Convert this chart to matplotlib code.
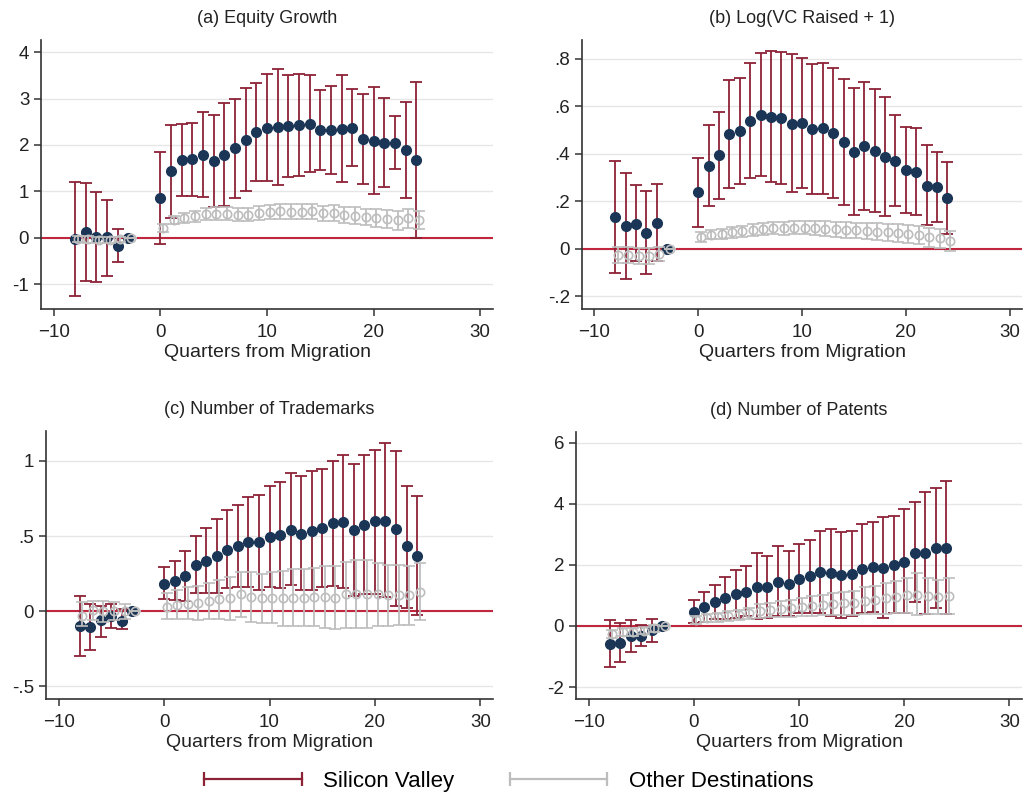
import matplotlib
matplotlib.use("Agg")
import matplotlib.pyplot as plt
from matplotlib.lines import Line2D
from matplotlib.ticker import FuncFormatter

plt.rcParams['font.family'] = ['Liberation Sans', 'DejaVu Sans']

quarters = [-8, -7, -6, -5, -4, -3] + list(range(0, 25))

# (a) Equity Growth
a_sv = [-0.02, 0.12, 0.02, 0.01, -0.17, 0.0,
        0.85, 1.43, 1.68, 1.69, 1.79, 1.65, 1.79, 1.93, 2.11, 2.28, 2.37, 2.38, 2.40,
        2.42, 2.46, 2.33, 2.33, 2.35, 2.36, 2.13, 2.09, 2.04, 2.04, 1.89, 1.67]
a_sv_lo = [-1.24, -0.93, -0.94, -0.81, -0.52, 0.0,
           -0.12, 0.43, 0.90, 0.90, 0.88, 0.67, 0.68, 0.87, 1.00, 1.22, 1.22, 1.14, 1.32,
           1.33, 1.41, 1.46, 1.38, 1.20, 1.54, 1.17, 0.95, 1.09, 1.49, 0.85, 0.00]
a_sv_hi = [1.20, 1.18, 0.98, 0.82, 0.20, 0.0,
           1.84, 2.44, 2.46, 2.48, 2.70, 2.64, 2.90, 2.99, 3.23, 3.33, 3.52, 3.63, 3.51,
           3.53, 3.51, 3.19, 3.28, 3.51, 3.20, 3.09, 3.24, 3.01, 2.62, 2.92, 3.36]
a_ot = [-0.02, -0.03, -0.04, -0.04, -0.03, 0.0,
        0.21, 0.39, 0.43, 0.47, 0.52, 0.52, 0.52, 0.50, 0.50, 0.54, 0.55, 0.57, 0.56,
        0.56, 0.57, 0.53, 0.53, 0.49, 0.48, 0.45, 0.43, 0.41, 0.38, 0.42, 0.39]
a_ot_lo = [-0.09, -0.10, -0.11, -0.11, -0.09, 0.0,
           0.13, 0.30, 0.32, 0.35, 0.39, 0.38, 0.38, 0.36, 0.36, 0.39, 0.40, 0.41, 0.40,
           0.40, 0.41, 0.37, 0.36, 0.32, 0.30, 0.27, 0.24, 0.22, 0.18, 0.21, 0.19]
a_ot_hi = [0.05, 0.04, 0.03, 0.03, 0.03, 0.0,
           0.29, 0.48, 0.54, 0.59, 0.65, 0.66, 0.66, 0.64, 0.64, 0.69, 0.70, 0.73, 0.72,
           0.72, 0.73, 0.69, 0.70, 0.66, 0.66, 0.63, 0.62, 0.60, 0.58, 0.63, 0.59]

# (b) Log(VC Raised + 1)
b_sv = [0.135, 0.096, 0.107, 0.068, 0.110, 0.0,
        0.238, 0.350, 0.395, 0.485, 0.495, 0.539, 0.564, 0.556, 0.550, 0.528, 0.530, 0.505, 0.510,
        0.488, 0.449, 0.408, 0.432, 0.412, 0.388, 0.372, 0.332, 0.325, 0.267, 0.260, 0.216]
b_sv_lo = [-0.100, -0.127, -0.050, -0.106, -0.050, 0.0,
           0.093, 0.179, 0.212, 0.258, 0.272, 0.300, 0.306, 0.282, 0.272, 0.238, 0.258, 0.233, 0.231,
           0.214, 0.185, 0.142, 0.162, 0.157, 0.138, 0.180, 0.152, 0.141, 0.100, 0.113, 0.063]
b_sv_hi = [0.370, 0.320, 0.268, 0.243, 0.272, 0.0,
           0.385, 0.522, 0.578, 0.712, 0.720, 0.783, 0.825, 0.834, 0.830, 0.820, 0.806, 0.778, 0.785,
           0.762, 0.715, 0.677, 0.703, 0.672, 0.642, 0.566, 0.514, 0.508, 0.436, 0.410, 0.368]
b_ot = [-0.025, -0.025, -0.030, -0.030, -0.020, 0.0,
        0.050, 0.060, 0.063, 0.070, 0.075, 0.080, 0.085, 0.087, 0.087, 0.089, 0.090, 0.088, 0.086,
        0.083, 0.080, 0.078, 0.076, 0.073, 0.070, 0.068, 0.063, 0.059, 0.050, 0.045, 0.034]
b_ot_lo = [-0.060, -0.058, -0.062, -0.062, -0.050, 0.0,
           0.030, 0.040, 0.042, 0.048, 0.052, 0.056, 0.060, 0.061, 0.060, 0.061, 0.061, 0.058, 0.055,
           0.052, 0.048, 0.045, 0.042, 0.038, 0.034, 0.031, 0.025, 0.020, 0.010, 0.004, -0.008]
b_ot_hi = [0.010, 0.008, 0.002, 0.002, 0.010, 0.0,
           0.070, 0.080, 0.084, 0.092, 0.098, 0.104, 0.110, 0.113, 0.114, 0.117, 0.119, 0.118, 0.117,
           0.114, 0.112, 0.111, 0.110, 0.108, 0.106, 0.105, 0.101, 0.098, 0.090, 0.086, 0.076]

# (c) Number of Trademarks
c_sv = [-0.100, -0.109, -0.060, -0.031, -0.064, 0.0,
        0.184, 0.204, 0.233, 0.308, 0.335, 0.366, 0.410, 0.432, 0.461, 0.459, 0.494, 0.508, 0.543,
        0.517, 0.537, 0.554, 0.588, 0.594, 0.541, 0.572, 0.599, 0.603, 0.550, 0.432, 0.370]
c_sv_lo = [-0.297, -0.260, -0.170, -0.113, -0.120, 0.0,
           0.078, 0.073, 0.067, 0.118, 0.122, 0.122, 0.151, 0.162, 0.162, 0.144, 0.162, 0.151, 0.173,
           0.140, 0.140, 0.162, 0.166, 0.151, 0.104, 0.113, 0.113, 0.095, 0.033, 0.024, -0.029]
c_sv_hi = [0.102, 0.050, 0.033, 0.050, 0.013, 0.0,
           0.293, 0.337, 0.400, 0.500, 0.554, 0.612, 0.674, 0.705, 0.760, 0.776, 0.836, 0.862, 0.918,
           0.898, 0.933, 0.949, 1.002, 1.038, 0.982, 1.038, 1.073, 1.118, 1.064, 0.836, 0.769]
c_ot = [-0.030, 0.010, 0.000, 0.000, 0.000, 0.0,
        0.029, 0.040, 0.047, 0.055, 0.070, 0.080, 0.090, 0.113, 0.095, 0.090, 0.089, 0.086, 0.090,
        0.090, 0.095, 0.095, 0.090, 0.113, 0.117, 0.117, 0.113, 0.106, 0.110, 0.106, 0.129]
c_ot_lo = [-0.100, -0.060, -0.070, -0.060, -0.050, 0.0,
           -0.050, -0.050, -0.050, -0.060, -0.050, -0.050, -0.060, -0.040, -0.070, -0.080, -0.080, -0.100, -0.100,
           -0.100, -0.100, -0.110, -0.120, -0.110, -0.110, -0.110, -0.100, -0.100, -0.090, -0.090, -0.060]
c_ot_hi = [0.060, 0.070, 0.070, 0.060, 0.050, 0.0,
           0.120, 0.140, 0.160, 0.170, 0.190, 0.210, 0.230, 0.260, 0.260, 0.250, 0.260, 0.270, 0.280,
           0.280, 0.290, 0.300, 0.300, 0.330, 0.340, 0.340, 0.320, 0.310, 0.310, 0.300, 0.320]

# (d) Number of Patents
d_sv = [-0.59, -0.56, -0.33, -0.33, -0.13, 0.0,
        0.47, 0.61, 0.79, 0.91, 1.05, 1.12, 1.29, 1.29, 1.43, 1.39, 1.54, 1.62, 1.76,
        1.74, 1.67, 1.71, 1.86, 1.92, 1.90, 2.00, 2.11, 2.40, 2.38, 2.54, 2.54]
d_sv_lo = [-1.35, -1.17, -0.84, -0.66, -0.51, 0.0,
           0.11, 0.14, 0.22, 0.24, 0.27, 0.31, 0.22, 0.27, 0.31, 0.31, 0.41, 0.41, 0.44,
           0.33, 0.25, 0.33, 0.41, 0.47, 0.25, 0.41, 0.41, 0.78, 0.39, 0.59, 0.39]
d_sv_hi = [0.20, 0.09, 0.20, 0.02, 0.22, 0.0,
           0.85, 1.11, 1.34, 1.59, 1.82, 1.97, 2.39, 2.30, 2.62, 2.45, 2.69, 2.83, 3.10,
           3.16, 3.08, 3.10, 3.33, 3.41, 3.56, 3.61, 3.83, 4.05, 4.39, 4.51, 4.73]
d_ot = [-0.25, -0.20, -0.20, -0.15, -0.08, 0.0,
        0.20, 0.25, 0.28, 0.33, 0.36, 0.41, 0.49, 0.52, 0.56, 0.58, 0.61, 0.66, 0.69,
        0.71, 0.74, 0.76, 0.82, 0.85, 0.90, 0.94, 1.00, 1.03, 0.98, 0.96, 0.98]
d_ot_lo = [-0.38, -0.32, -0.32, -0.27, -0.19, 0.0,
           0.08, 0.12, 0.14, 0.17, 0.19, 0.22, 0.27, 0.28, 0.30, 0.30, 0.31, 0.34, 0.35,
           0.35, 0.36, 0.36, 0.38, 0.39, 0.40, 0.41, 0.43, 0.36, 0.39, 0.40, 0.39]
d_ot_hi = [-0.12, -0.08, -0.08, -0.03, 0.03, 0.0,
           0.32, 0.38, 0.42, 0.49, 0.53, 0.60, 0.71, 0.76, 0.82, 0.86, 0.91, 0.98, 1.03,
           1.07, 1.12, 1.16, 1.26, 1.31, 1.40, 1.47, 1.57, 1.72, 1.57, 1.52, 1.56]

titles = ["(a) Equity Growth", "(b) Log(VC Raised + 1)",
          "(c) Number of Trademarks", "(d) Number of Patents"]
xticks = [-10, 0, 10, 20, 30]
yticks_a = [-1, 0, 1, 2, 3, 4]
yticks_b = [-0.2, 0, 0.2, 0.4, 0.6, 0.8]
yticks_c = [-0.5, 0, 0.5, 1]
yticks_d = [-2, 0, 2, 4, 6]

SV_RED = "#8c2236"
SV_NAVY = "#1b3556"
ZERO_RED = "#c1263f"
OT_GRAY = "#bdbdbd"


def stata_fmt(v, pos):
    # Stata drops the leading zero: .5, -.2
    if abs(v) < 1e-9:
        return "0"
    s = ("%g" % round(v, 3))
    s = s.replace("0.", ".")
    return s


def panel(ax, title, sv, sv_lo, sv_hi, ot, ot_lo, ot_hi, yticks, ylim):
    ax.axhline(0, color=ZERO_RED, lw=1.5, zorder=2)
    sv_err = [[m - l for m, l in zip(sv, sv_lo)], [h - m for m, h in zip(sv, sv_hi)]]
    ax.errorbar(quarters, sv, yerr=sv_err, fmt='o', color=SV_RED, ecolor=SV_RED,
                mfc=SV_NAVY, mec=SV_NAVY, ms=7, elinewidth=1.3, capsize=4,
                capthick=1.3, zorder=3)
    xo = [q + 0.25 for q in quarters]
    ot_err = [[m - l for m, l in zip(ot, ot_lo)], [h - m for m, h in zip(ot, ot_hi)]]
    ax.errorbar(xo, ot, yerr=ot_err, fmt='o', color=OT_GRAY, ecolor=OT_GRAY,
                mfc='none', mec=OT_GRAY, ms=6, mew=1.2, elinewidth=1.3, capsize=4,
                capthick=1.3, zorder=4)
    ax.set_xlim(-11.2, 31.2)
    ax.set_ylim(*ylim)
    ax.set_xticks(xticks)
    ax.set_yticks(yticks)
    ax.yaxis.set_major_formatter(FuncFormatter(stata_fmt))
    ax.grid(axis='y', color='#e6e6e6', lw=1.0, zorder=0)
    ax.set_axisbelow(True)
    for s in ['top', 'right']:
        ax.spines[s].set_visible(False)
    for s in ['left', 'bottom']:
        ax.spines[s].set_color('#333333')
        ax.spines[s].set_linewidth(1.2)
    ax.tick_params(axis='both', labelsize=13.5, length=5, width=1.1, color='#333333',
                   labelcolor='#222222')
    ax.tick_params(axis='x', pad=6)
    ax.set_title(title, fontsize=13, pad=12, color='#222222')
    ax.set_xlabel("Quarters from Migration", fontsize=14, labelpad=2, color='#222222')


fig = plt.figure(figsize=(10.31, 7.95), dpi=100)
ax_a = fig.add_axes([0.0398, 0.6113, 0.4384, 0.3384])
ax_b = fig.add_axes([0.5645, 0.6113, 0.4268, 0.3384])
ax_c = fig.add_axes([0.0446, 0.1208, 0.4336, 0.3371])
ax_d = fig.add_axes([0.5587, 0.1208, 0.4326, 0.3358])

panel(ax_a, titles[0], a_sv, a_sv_lo, a_sv_hi, a_ot, a_ot_lo, a_ot_hi, yticks_a, (-1.53, 4.26))
panel(ax_b, titles[1], b_sv, b_sv_lo, b_sv_hi, b_ot, b_ot_lo, b_ot_hi, yticks_b, (-0.253, 0.88))
panel(ax_c, titles[2], c_sv, c_sv_lo, c_sv_hi, c_ot, c_ot_lo, c_ot_hi, yticks_c, (-0.585, 1.2))
panel(ax_d, titles[3], d_sv, d_sv_lo, d_sv_hi, d_ot, d_ot_lo, d_ot_hi, yticks_d, (-2.39, 6.35))

handles = [Line2D([0], [0], color=SV_RED, lw=1.6, marker='|', ms=10, mew=1.6),
           Line2D([0], [0], color=OT_GRAY, lw=1.6, marker='|', ms=10, mew=1.6)]
fig.legend(handles, ["Silicon Valley", "Other Destinations"], loc='center',
           bbox_to_anchor=(0.49, 0.017), ncol=2, frameon=False, fontsize=16,
           numpoints=2, handlelength=5.0, handletextpad=0.65, columnspacing=2.2)

fig.savefig("out.png", dpi=100)
